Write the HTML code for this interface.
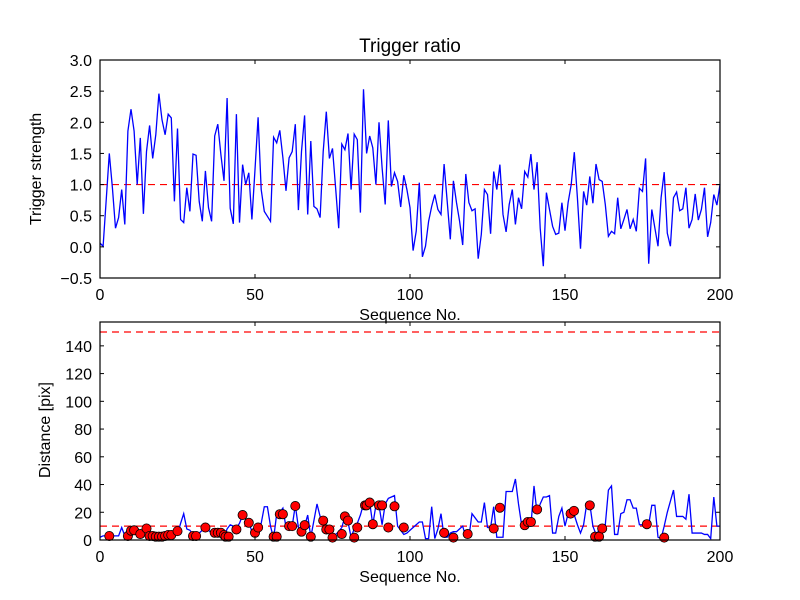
<!DOCTYPE html>
<html><head><meta charset="utf-8"><style>
body{margin:0;background:#fff;}
svg{display:block;font-family:"Liberation Sans",sans-serif;}
</style></head><body>
<svg id="c" width="800" height="600" viewBox="0 0 800 600"></svg>
<script>
const strength=[0.06,0.01,0.75,1.5,0.95,0.3,0.47,0.92,0.36,1.86,2.21,1.86,1.0,1.75,0.53,1.53,1.95,1.42,1.8,2.46,2.04,1.8,2.13,2.07,0.73,1.9,0.44,0.39,0.95,0.57,1.49,1.47,0.73,0.41,1.22,0.63,0.41,1.78,1.97,1.48,1.06,2.39,0.62,0.37,2.13,0.39,1.32,1.0,1.19,0.44,1.24,2.08,0.92,0.57,0.49,0.41,1.76,1.67,1.87,1.43,0.9,1.43,1.53,1.97,0.59,1.53,2.11,0.52,1.7,0.65,0.61,0.47,1.53,2.17,1.42,1.58,0.95,0.3,1.65,1.56,1.82,0.92,1.81,1.72,0.55,2.53,1.5,1.78,1.59,1.0,2.0,1.27,0.68,2.03,0.97,1.19,1.05,0.64,1.15,0.92,0.63,-0.06,0.25,1.03,-0.16,0.01,0.41,0.65,0.84,0.6,0.52,1.33,0.73,0.12,1.06,0.71,0.41,0.03,1.17,0.71,0.58,0.61,-0.19,0.2,0.92,0.84,0.21,1.21,0.92,1.32,0.52,0.24,0.68,0.92,0.36,0.79,0.61,1.21,1.12,1.49,0.92,1.36,0.3,-0.31,0.87,0.6,0.33,0.2,0.22,0.71,0.26,0.71,1.0,1.52,0.79,-0.03,0.89,0.67,1.13,0.7,1.33,1.08,1.05,0.68,0.17,0.25,0.21,0.79,0.29,0.44,0.6,0.29,0.44,0.25,0.94,0.89,1.42,-0.27,0.6,0.3,0.01,0.79,1.2,0.22,0.01,0.79,0.88,0.58,0.61,0.95,0.3,0.44,0.85,0.43,0.6,0.95,0.16,0.39,0.84,0.67,1.0];
const distance=[2,3,3,3,3,3,3,9,3,3,5,7,7,6,5,8,5,3,2,2,2,2,2,3,4,4,12,19,8,7,4,2,5,7,9,7,5,4,4,3,2,8,11,10,9,12,18,15,13,6,5,9,12,24,24,10,1,19,20,23,9,9,10,25,9,6,10,18,2,14,26,17,13,9,8,2,4,6,9,17,13,2,8,12,18,26,26,27,11,25,25,11,26,30,31,32,10,7,4,5,7,9,11,13,13,1,1,24,1,8,19,2,2,5,6,6,8,10,2,2,19,16,13,13,27,9,9,24,2,2,2,35,35,35,44,26,11,9,10,10,39,19,26,31,31,32,5,5,17,23,10,19,18,18,11,5,11,26,26,10,4,7,11,11,36,39,4,4,19,20,29,29,23,23,11,11,11,11,25,25,2,1,10,20,28,36,17,17,17,15,33,5,5,5,5,4,4,1,31,10,10];
const dotX=[3,9,10,11,13,15,16,17,18,19,20,21,22,23,25,30,31,34,37,38,39,40,40.5,41.5,44,46,48,50,51,56,57,58,59,61,62,63,65,66,68,72,73,74,75,78,79,80,82,83,85.5,86,87,88,90,91,93,95,98,111,114,118.6,127,129,137,138,139,141,151.8,152.9,158,159.7,161,162,176.4,182];
const dotY=[2.9,2.9,6.7,7,4.3,8.3,2.9,2.9,2.4,2.4,2.4,2.9,3.6,3.6,6.4,2.9,2.9,9,5.2,5.2,5.2,3.6,2.4,2.4,7.6,18,12.4,5.2,9,2.4,2.4,18.6,18.6,10,10,24.5,6,10.7,2.4,14,7.6,7.6,1.7,4.3,17,14,1.7,9,25,25,27,11.4,25,25,9,24.3,9,5.2,1.7,4.3,8.3,23.3,10.7,13,13,22,19,21,25,2.4,2.4,8.3,11.4,1.7];
const topTicksY=["\u22120.5","0.0","0.5","1.0","1.5","2.0","2.5","3.0"];
const topTickVals=[-0.5,0,0.5,1,1.5,2,2.5,3];
const botTickVals=[0,20,40,60,80,100,120,140];
const xTickVals=[0,50,100,150,200];

const NS="http://www.w3.org/2000/svg";
const svg=document.getElementById('c');
function mk(t,a,p){const e=document.createElementNS(NS,t);for(const k in a)e.setAttribute(k,a[k]);(p||svg).appendChild(e);return e;}
const L=100,R=720;
const xs=v=>L+(R-L)*v/200;
const T={top:60,bot:278,min:-0.5,max:3.0};
const B={top:322,bot:540,min:0,max:157.2};
const ysT=v=>T.bot-(v-T.min)/(T.max-T.min)*(T.bot-T.top);
const ysB=v=>B.bot-(v-B.min)/(B.max-B.min)*(B.bot-B.top);

function axes(P,ys,vals,labels,name){
  const g=mk('g',{});
  
  
  vals.forEach((v,i)=>{
    const y=ys(v);
    mk('line',{x1:L,x2:L+4,y1:y,y2:y,stroke:'#000'},g);
    mk('line',{x1:R,x2:R-4,y1:y,y2:y,stroke:'#000'},g);
    const t=mk('text',{x:L-8,y:y+6,'text-anchor':'end','font-size':16},g);
    t.textContent=labels[i];
    
    
  });
  xTickVals.forEach(v=>{
    const x=xs(v);
    mk('line',{x1:x,x2:x,y1:P.bot,y2:P.bot-4,stroke:'#000'},g);
    mk('line',{x1:x,x2:x,y1:P.top,y2:P.top+4,stroke:'#000'},g);
    const t=mk('text',{x:x,y:P.bot+22,'text-anchor':'middle','font-size':16},g);
    t.textContent=String(v);
    
    
  });
}
function frame(P,name){
  const r=mk('rect',{x:L,y:P.top,width:R-L,height:P.bot-P.top,fill:'none',stroke:'#000','stroke-width':1.2});
  
  
}
const ref1=mk('line',{x1:L,x2:R,y1:ysT(1),y2:ysT(1),stroke:'#f00','stroke-dasharray':'7,5','stroke-width':1.2});


const p1=mk('polyline',{points:strength.map((v,i)=>xs(i)+','+ysT(v)).join(' '),fill:'none',stroke:'#00f','stroke-width':1.3});


frame(T,'top');
axes(T,ysT,topTickVals,topTicksY,'top');
[10,150].forEach(v=>{
  const l=mk('line',{x1:L,x2:R,y1:ysB(v),y2:ysB(v),stroke:'#f00','stroke-dasharray':'7,5','stroke-width':1.2});
  
  
});
const p2=mk('polyline',{points:distance.map((v,i)=>xs(i)+','+ysB(v)).join(' '),fill:'none',stroke:'#00f','stroke-width':1.3});


dotX.forEach((x,i)=>{
  const c=mk('circle',{cx:xs(x),cy:ysB(dotY[i]),r:4.6,fill:'#f00',stroke:'#000','stroke-width':0.8});
  
  
});
frame(B,'bottom');
axes(B,ysB,botTickVals,botTickVals.map(String),'bottom');
</script>
<div style="position:absolute;left:0;top:0;width:800px;height:600px;pointer-events:none;font-family:'Liberation Sans',sans-serif;">
<div style="position:absolute;left:0;width:820px;top:36px;text-align:center;font-size:19px;">Trigger ratio</div>
<div style="position:absolute;left:310px;width:200px;top:307px;text-align:center;font-size:16px;">Sequence No.</div>
<div style="position:absolute;left:310px;width:200px;top:569px;text-align:center;font-size:16px;">Sequence No.</div>
<div style="position:absolute;left:-63px;width:200px;top:160px;text-align:center;font-size:16px;transform:rotate(-90deg);">Trigger strength</div>
<div style="position:absolute;left:-54px;width:200px;top:421px;text-align:center;font-size:16px;transform:rotate(-90deg);">Distance [pix]</div>
</div>
</body></html>
